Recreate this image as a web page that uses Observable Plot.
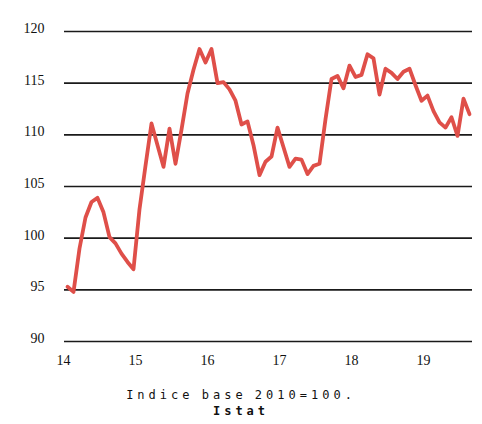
<!DOCTYPE html>
<html>
<head>
<meta charset="utf-8">
<script src="https://cdn.jsdelivr.net/npm/d3@7"></script>
<script src="https://cdn.jsdelivr.net/npm/@observablehq/plot@0.6"></script>
<style>
  html, body { margin: 0; padding: 0; background: #fff; }
  #chart { width: 482px; }
  .caption {
    width: 482px; text-align: center;
    font-family: "DejaVu Sans Mono", monospace; font-size: 12px;
    letter-spacing: 4px; word-spacing: -3px; line-height: 16px; color: #111;
    margin-top: 17px;
  }
  .caption b { font-weight: bold; }
</style>
</head>
<body>
<div id="chart"></div>
<div class="caption">Indice base 2010=100.<br><b>Istat</b></div>
<script>
// Monthly index, Jan 2014 – Aug 2019
const startYear = 2014;
const values = [
  95.3, 94.8, 99.0, 102.0, 103.5, 103.9, 102.5, 100.1, 99.5, 98.5, 97.7, 97.0,
  102.8, 107.0, 111.1, 109.0, 106.9, 110.6, 107.2, 110.5, 114.0, 116.3, 118.3, 117.0,
  118.3, 115.0, 115.1, 114.4, 113.3, 111.0, 111.3, 109.0, 106.1, 107.4, 107.9, 110.7,
  108.8, 106.9, 107.7, 107.6, 106.2, 107.0, 107.2, 111.5, 115.4, 115.7, 114.5, 116.7,
  115.6, 115.8, 117.8, 117.4, 113.9, 116.4, 116.0, 115.4, 116.1, 116.4, 114.8, 113.3,
  113.8, 112.3, 111.2, 110.7, 111.7, 109.9, 113.5, 112.0
];
const yTicks = [90, 95, 100, 105, 110, 115, 120];
const xTickMonths = [0, 12, 24, 36, 48, 60];
const xTickLabels = ["14", "15", "16", "17", "18", "19"];

const data = values.map((v, i) => ({ m: i, v }));

const chart = Plot.plot({
  width: 482,
  height: 370,
  marginLeft: 64,
  marginRight: 10,
  marginTop: 31,
  marginBottom: 29,
  style: { fontFamily: "'Liberation Serif', serif", fontSize: "14px", color: "#111", background: "#fff" },
  x: { domain: [-0.5, values.length - 0.5] },
  y: { domain: [90, 120] },
  marks: [
    Plot.ruleY(yTicks, { stroke: "#1a1a1a", strokeWidth: 1.6 }),
    Plot.axisY({ ticks: yTicks, tickSize: 0, tickPadding: 20, dy: -3, label: null, fontSize: 14, fill: "#111" }),
    Plot.axisX({ ticks: xTickMonths, tickFormat: (d) => xTickLabels[xTickMonths.indexOf(d)], tickSize: 0, tickPadding: 14, dx: -4, label: null, fontSize: 14, fill: "#111" }),
    Plot.line(data, { x: "m", y: "v", stroke: "#df4f49", strokeWidth: 3.8, strokeLinejoin: "round", strokeLinecap: "round" })
  ]
});
document.getElementById("chart").appendChild(chart);
</script>
</body>
</html>
